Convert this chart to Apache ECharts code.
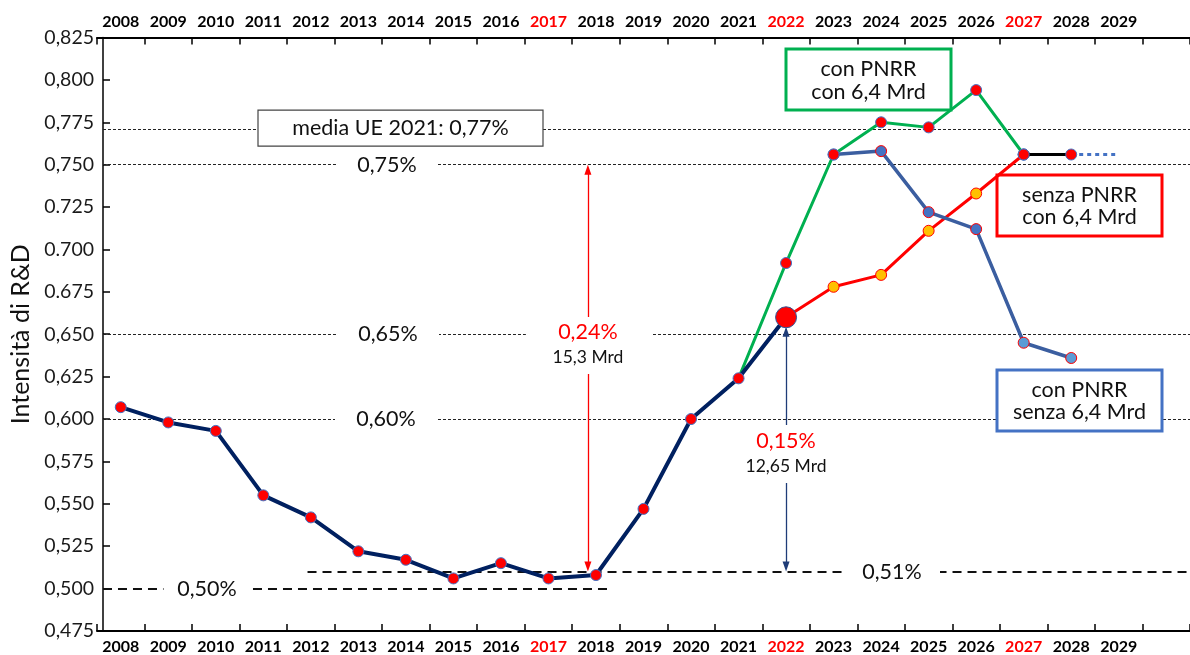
<!DOCTYPE html>
<html><head><meta charset="utf-8">
<script src="https://cdn.jsdelivr.net/npm/echarts@6/dist/echarts.min.js"></script>
<style>html,body{margin:0;padding:0;background:#fff}#c{width:1190px;height:655px}</style>
</head><body><div id="c"></div>
<script>
// ---------------- data ----------------
const axisYears = ['2008','2009','2010','2011','2012','2013','2014','2015','2016','2017','2018','2019','2020','2021','2022','2023','2024','2025','2026','2027','2028','2029',''];
const highlightYears = ['2017','2022','2027'];
const yTickLabels = ['0,475','0,500','0,525','0,550','0,575','0,600','0,625','0,650','0.675','0.700','0.725','0,750','0,775','0,800','0,825'];

const mainYears  = [2008,2009,2010,2011,2012,2013,2014,2015,2016,2017,2018,2019,2020,2021,2022];
const mainValues = [0.607,0.598,0.593,0.555,0.542,0.522,0.517,0.506,0.515,0.506,0.508,0.547,0.600,0.624,0.660];

const greenYears  = [2021,2022,2023,2024,2025,2026,2027];
const greenValues = [0.624,0.692,0.756,0.775,0.772,0.794,0.756];

const redYears  = [2022,2023,2024,2025,2026,2027];
const redValues = [0.660,0.678,0.685,0.711,0.733,0.756];

const blueYears  = [2023,2024,2025,2026,2027,2028];
const blueValues = [0.756,0.758,0.722,0.712,0.645,0.636];

const blackYears  = [2027,2028];
const blackValues = [0.756,0.756];

const dottedYears  = [2028,2029];
const dottedValues = [0.756,0.756];

const euAverage = 0.771;
const levelLines = [0.75,0.65,0.60];
const low2017 = 0.51, level050 = 0.50;
const topGap = 0.75, dotTarget = 0.6545;

// ---------------- chart ----------------
const chart = echarts.init(document.getElementById('c'), null, {renderer:'canvas'});
const FONT = 'Lato';
const pts = (xs, ys) => xs.map((x,i)=>[x, ys[i]]);
const RED = '#ff0000', DOTB = '#4472c4';
const dot = {color:RED, borderColor:DOTB, borderWidth:1};

const mainData = pts(mainYears, mainValues).map((p,i,a)=> i===a.length-1
  ? {value:p, symbolSize:21, itemStyle:{color:RED, borderColor:'#2f5597', borderWidth:1}} : p);
const greenData = pts(greenYears, greenValues).map((p,i)=> i===0 ? {value:p, symbol:'none'} : p);
const redData = pts(redYears, redValues).map((p,i,a)=>{
  if (i===0) return {value:p, symbol:'none'};
  if (i===a.length-1) return {value:p, itemStyle:dot};
  return {value:p, itemStyle:{color:'#ffc000', borderColor:RED, borderWidth:1}};
});
const blueData = pts(blueYears, blueValues).map((p,i)=>{
  if (i===0) return {value:p, itemStyle:dot};
  if (i<=3) return {value:p, itemStyle:{color:'#4472c4', borderColor:RED, borderWidth:1}};
  return {value:p, itemStyle:{color:'#5b9bd5', borderColor:RED, borderWidth:1}};
});

const xMin = 2007.5, xMax = 2030.5, xAxisStart = 2007.626;
const thin = {type:[3,2], width:1, color:'#222'};
const thick = {type:[9,6], width:1.8, color:'#111'};

const refLines = [];
[euAverage].concat(levelLines).forEach(v=>refLines.push([{coord:[xAxisStart,v], lineStyle:thin},{coord:[xMax,v]}]));
refLines.push([{coord:[xAxisStart,level050], lineStyle:thick},{coord:[2018.29,level050]}]);
refLines.push([{coord:[2011.93,low2017], lineStyle:thick},{coord:[xMax,low2017]}]);

const yearLabel = v => highlightYears.includes(v) ? '{r|'+v+'}' : '{b|'+v+'}';
const rich = {b:{fontFamily:FONT,fontWeight:'bold',fontSize:16,color:'#000'}, r:{fontFamily:FONT,fontWeight:'bold',fontSize:16,color:RED}};

const catAxis = (pos) => ({
  type:'category', position:pos, data:axisYears, gridIndex:0, boundaryGap:true,
  axisLine:{show:true, lineStyle:{color:'#000', width:2}},
  axisTick:{show:true, inside:true, length:7, lineStyle:{color:'#000', width:1.5}},
  axisLabel:{interval:0, margin:8, formatter:yearLabel, rich},
  splitLine:{show:false}
});

const option = {
  animation:false,
  backgroundColor:'#fff',
  grid:{left:93, right:0, top:37.5, bottom:23, containLabel:false},
  xAxis:[
    {type:'value', min:xMin, max:xMax, show:false, gridIndex:0},
    catAxis('top'),
    catAxis('bottom')
  ],
  yAxis:{
    type:'value', min:0.475, max:0.825, interval:0.025, offset:-6,
    name:'Intensità di R&D', nameLocation:'middle', nameRotate:90, nameGap:70,
    nameTextStyle:{fontFamily:FONT, fontSize:25, color:'#111'},
    axisLine:{show:true, lineStyle:{color:'#000', width:1.5}},
    axisTick:{show:true, inside:true, length:7, lineStyle:{color:'#000', width:1.5}},
    axisLabel:{margin:9, fontFamily:FONT, fontSize:19.5, color:'#1a1a1a',
      formatter:v=>yTickLabels[Math.round((v-0.475)/0.025)]},
    splitLine:{show:false}
  },
  series:[
    {type:'line', name:'ref', xAxisIndex:0, data:[], z:1, silent:true,
      markLine:{silent:true, symbol:['none','none'], label:{show:false}, animation:false, data:refLines}},
    {type:'line', name:'arrowRed', xAxisIndex:0, data:[], z:1, silent:true,
      markLine:{silent:true, symbol:['triangle','triangle'], symbolSize:[7,10], label:{show:false}, animation:false,
        lineStyle:{type:'solid', color:RED, width:1.3},
        data:[[{coord:[2017.83, topGap-0.003]},{coord:[2017.83, low2017+0.003]}]]}},
    {type:'line', name:'arrowNavy', xAxisIndex:0, data:[], z:1, silent:true,
      markLine:{silent:true, symbol:['triangle','triangle'], symbolSize:[7,10], label:{show:false}, animation:false,
        lineStyle:{type:'solid', color:'#1f3c78', width:1.3},
        data:[[{coord:[2022, low2017+0.003]},{coord:[2022, dotTarget-0.003]}]]}},
    {type:'line', name:'con PNRR con 6,4 Mrd', xAxisIndex:0, data:greenData, z:10,
      lineStyle:{color:'#00b050', width:3}, symbol:'circle', symbolSize:11, itemStyle:dot},
    {type:'line', name:'senza PNRR con 6,4 Mrd', xAxisIndex:0, data:redData, z:11,
      lineStyle:{color:RED, width:3}, symbol:'circle', symbolSize:11, itemStyle:dot},
    {type:'line', name:'con PNRR senza 6,4 Mrd', xAxisIndex:0, data:blueData, z:12,
      lineStyle:{color:'#3b5ea0', width:3.5}, symbol:'circle', symbolSize:11, itemStyle:dot},
    {type:'line', name:'extension', xAxisIndex:0, data:pts(dottedYears,dottedValues), z:12, showSymbol:false, symbol:'none',
      lineStyle:{color:'#4472c4', width:3, type:[4,4]}},
    {type:'line', name:'black', xAxisIndex:0, data:pts(blackYears,blackValues), z:13,
      lineStyle:{color:'#000', width:3}, symbol:'circle', symbolSize:11, itemStyle:dot},
    {type:'line', name:'storico', xAxisIndex:0, data:mainData, z:14,
      lineStyle:{color:'#002060', width:4}, symbol:'circle', symbolSize:11, itemStyle:dot}
  ]
};
chart.setOption(option);

// ---------------- annotations ----------------
const Y = v => chart.convertToPixel({xAxisIndex:0, yAxisIndex:0}, [2010, v])[1];
const X = v => chart.convertToPixel({xAxisIndex:0, yAxisIndex:0}, [v, 0.6])[0];
const g = [];
const txt = (x,y,text,size,color,weight) => g.push({type:'text', z:6, x, y,
  style:{text, fontFamily:FONT, fontSize:size, fill:color||'#111', fontWeight:weight||'normal', align:'center', verticalAlign:'middle'}});
const rect = (x,y,w,h,stroke,lw) => g.push({type:'rect', z:5, shape:{x,y,width:w,height:h},
  style:{fill:'#fff', stroke:stroke||null, lineWidth:lw||0}});

// level labels with gaps
[[387,0.75,'0,75%',102],[388,0.65,'0,65%',102],[386,0.60,'0,60%',102],[207,level050,'0,50%',87],[892,low2017,'0,51%',96]].forEach(([cx,v,t,w])=>{
  const y = Y(v); rect(cx-w/2, y-6, w, 12); txt(cx, y, t, 21.5, '#111');
});
// 0,24% block
{ const cx = X(2017.83); rect(cx-62, 317, 127, 57); txt(cx, 332, '0,24%', 21.5, RED); txt(cx, 357, '15,3 Mrd', 17.5, '#111'); }
// 0,15% block
{ const cx = X(2022); rect(cx-46, 425, 92, 58); txt(cx, 441, '0,15%', 21.5, RED); txt(cx, 466, '12,65 Mrd', 17.5, '#111'); }
// boxes
rect(258, Y(euAverage)-19, 285, 36, '#444', 1.2); txt(400.5, Y(euAverage)-1, 'media UE 2021: 0,77%', 21.5, '#111');
rect(786, 49, 165, 61, '#00b050', 3); txt(868.5, 69, 'con PNRR', 21.5); txt(868.5, 92, 'con 6,4 Mrd', 21.5);
rect(997, 175, 165, 61, RED, 3); txt(1079.5, 195, 'senza PNRR', 21.5); txt(1079.5, 217, 'con 6,4 Mrd', 21.5);
rect(997, 370, 165, 61, '#4472c4', 3); txt(1079.5, 390, 'con PNRR', 21.5); txt(1079.5, 412, 'senza 6,4 Mrd', 21.5);

chart.setOption({graphic:{elements:g}});
</script>
</body></html>
